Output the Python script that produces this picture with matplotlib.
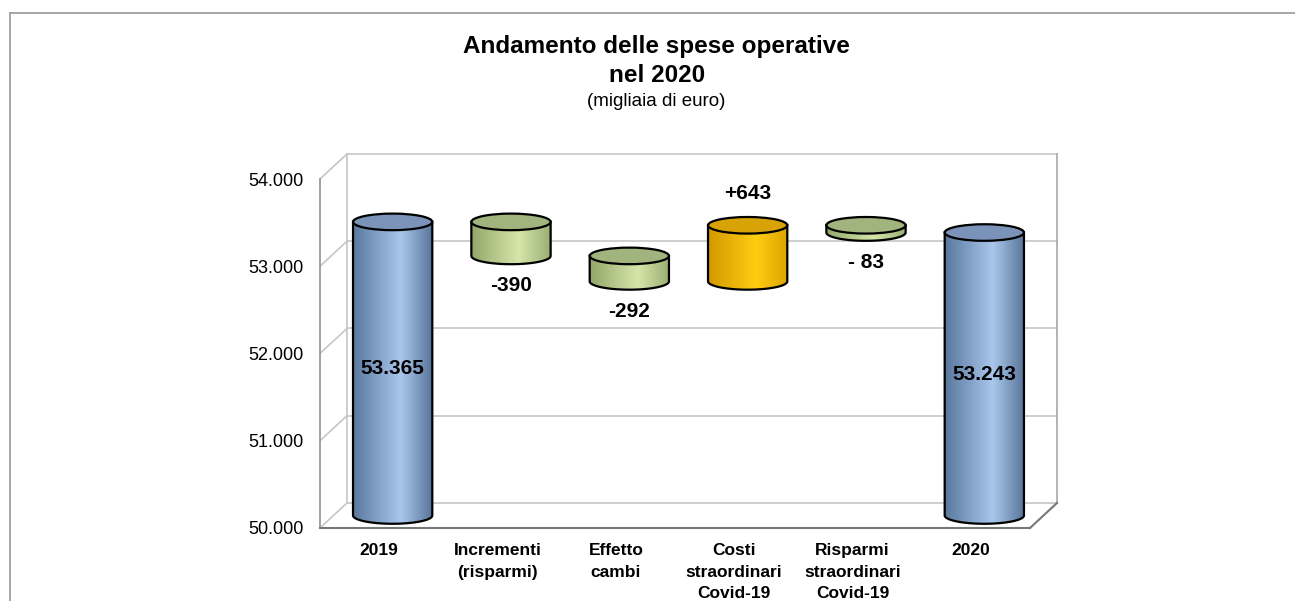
import matplotlib

matplotlib.use("Agg")
import matplotlib.pyplot as plt
import numpy as np
from matplotlib.colors import to_rgb
from matplotlib.lines import Line2D
from matplotlib.patches import Ellipse, Polygon

plt.rcParams["font.family"] = ["Liberation Sans", "DejaVu Sans"]

# --- data -------------------------------------------------------------------
categories = [
    "2019",
    "Incrementi\n(risparmi)",
    "Effetto\ncambi",
    "Costi\nstraordinari\nCovid-19",
    "Risparmi\nstraordinari\nCovid-19",
    "2020",
]
start_value = 53365
changes = [-390, -292, 643, -83]
change_labels = ["-390", "-292", "+643", "- 83"]
end_value = 53243
total_labels = ["53.365", "53.243"]
y_ticks = [50000, 51000, 52000, 53000, 54000]
y_tick_labels = ["50.000", "51.000", "52.000", "53.000", "54.000"]
y_min, y_max = 50000, 54000

# --- style ------------------------------------------------------------------
DX = 0.228          # depth offset (categories)
DY = 287            # depth offset (value units)
BAR_W = 0.67
ELL_H = 190
EDGE_LW = 1.6

BLUE = ([(0.0, "#5b789f"), (0.6, "#a9c7ec"), (1.0, "#587399")], "#7b93b8")
GREEN = ([(0.0, "#93a76b"), (0.6, "#d6e6aa"), (1.0, "#9aae73")], "#a2b47d")
GOLD = ([(0.0, "#d39800"), (0.6, "#ffcd12"), (1.0, "#dca400")], "#d8a306")


def _gradient(stops, n=120):
    pos = np.array([s[0] for s in stops])
    cols = np.array([to_rgb(s[1]) for s in stops])
    xs = np.linspace(0, 1, n)
    rgb = np.stack([np.interp(xs, pos, cols[:, k]) for k in range(3)], axis=-1)
    return rgb[np.newaxis, :, :]


def draw_cylinder(ax, xc, lo, hi, palette, z):
    stops, top_color = palette
    hw = BAR_W / 2
    t = np.linspace(np.pi, 2 * np.pi, 80)
    arc_x = xc + hw * np.cos(t)
    arc_y = lo + ELL_H / 2 * np.sin(t)
    body_x = np.concatenate([[xc - hw], arc_x, [xc + hw]])
    body_y = np.concatenate([[hi], arc_y, [hi]])
    body = Polygon(np.column_stack([body_x, body_y]), closed=True, facecolor="none",
                   edgecolor="black", lw=EDGE_LW, zorder=z + 0.2, clip_on=False)
    ax.add_patch(body)
    im = ax.imshow(_gradient(stops), extent=[xc - hw, xc + hw, lo - ELL_H / 2, hi],
                   aspect="auto", interpolation="bilinear", zorder=z)
    im.set_clip_path(body)
    top = Ellipse((xc, hi), BAR_W, ELL_H, facecolor=top_color, edgecolor="black",
                  lw=EDGE_LW, zorder=z + 0.4, clip_on=False)
    ax.add_patch(top)


def main() -> None:
    fig = plt.figure(figsize=(12.95, 6.01), dpi=100)

    # outer frame (only left and top edges visible)
    fx, fy = 9.5 / 1295, 1 - 13 / 601
    fig.add_artist(Line2D([fx, fx], [0, fy], color="#a0a0a0", lw=1.3))
    fig.add_artist(Line2D([fx, 1], [fy, fy], color="#a0a0a0", lw=1.3))

    fig.text(0.507, 1 - 46 / 601, "Andamento delle spese operative", ha="center",
             va="center", fontsize=17.5, fontweight="bold")
    fig.text(0.507, 1 - 75 / 601, "nel 2020", ha="center", va="center",
             fontsize=17.5, fontweight="bold")
    fig.text(0.507, 1 - 102 / 601, "(migliaia di euro)", ha="center", va="center",
             fontsize=13.5)

    ax = fig.add_axes([320 / 1295, 73 / 601, 710 / 1295, 349 / 601])
    ax.patch.set_visible(False)
    for spine in ax.spines.values():
        spine.set_visible(False)

    x0, x1 = -0.5, len(categories) - 0.5
    grid_c = "#c6c6c6"
    # back wall
    for v in y_ticks:
        ax.plot([x0 + DX, x1 + DX], [v + DY, v + DY], color=grid_c, lw=1.2,
                clip_on=False, zorder=1)
        ax.plot([x0, x0 + DX], [v, v + DY], color=grid_c, lw=1.2, clip_on=False, zorder=1)
    ax.plot([x0 + DX, x0 + DX], [y_min + DY, y_max + DY], color=grid_c, lw=1.2,
            clip_on=False, zorder=1)
    ax.plot([x1 + DX, x1 + DX], [y_min + DY, y_max + DY], color="#a8a8a8", lw=1.2,
            clip_on=False, zorder=1)
    # front axis and floor
    ax.plot([x0, x0], [y_min, y_max], color="#9a9a9a", lw=1.3, clip_on=False, zorder=1)
    ax.plot([x0, x1], [y_min, y_min], color="#777777", lw=1.5, clip_on=False, zorder=1)
    ax.plot([x1, x1 + DX], [y_min, y_min + DY], color="#777777", lw=1.5,
            clip_on=False, zorder=1)

    # waterfall segments
    segments = [(y_min, start_value, BLUE, None)]
    running = start_value
    for c, lab in zip(changes, change_labels):
        lo, hi = sorted([running, running + c])
        segments.append((lo, hi, GOLD if c > 0 else GREEN, (c, lab)))
        running += c
    segments.append((y_min, end_value, BLUE, None))

    totals = iter(total_labels)
    for i, (lo, hi, pal, change) in enumerate(segments):
        xc = i + DX / 2
        draw_cylinder(ax, xc, lo + DY / 2, hi + DY / 2, pal, z=3 + i)
        if change is None:
            ax.text(xc, (lo + hi) / 2 + DY / 2, next(totals), ha="center", va="center",
                    fontsize=15, fontweight="bold", zorder=20)
        else:
            c, lab = change
            if c > 0:
                ax.annotate(lab, (xc, hi + DY / 2), xytext=(0, 32),
                            textcoords="offset pixels", ha="center", va="center",
                            fontsize=15, fontweight="bold", zorder=20)
            else:
                ax.annotate(lab, (xc, lo + DY / 2), xytext=(0, -30),
                            textcoords="offset pixels", ha="center", va="center",
                            fontsize=15, fontweight="bold", zorder=20)

    ax.set_xlim(x0, x1)
    ax.set_ylim(y_min, y_max)
    ax.set_yticks(y_ticks, y_tick_labels, fontsize=13)
    ax.set_xticks(range(len(categories)), categories, fontsize=12.5, fontweight="bold",
                  linespacing=1.55)
    ax.tick_params(axis="both", length=0)
    ax.tick_params(axis="y", pad=12)
    ax.tick_params(axis="x", pad=11)

    fig.savefig("out.png", dpi=100)
    plt.close(fig)


if __name__ == "__main__":
    main()
